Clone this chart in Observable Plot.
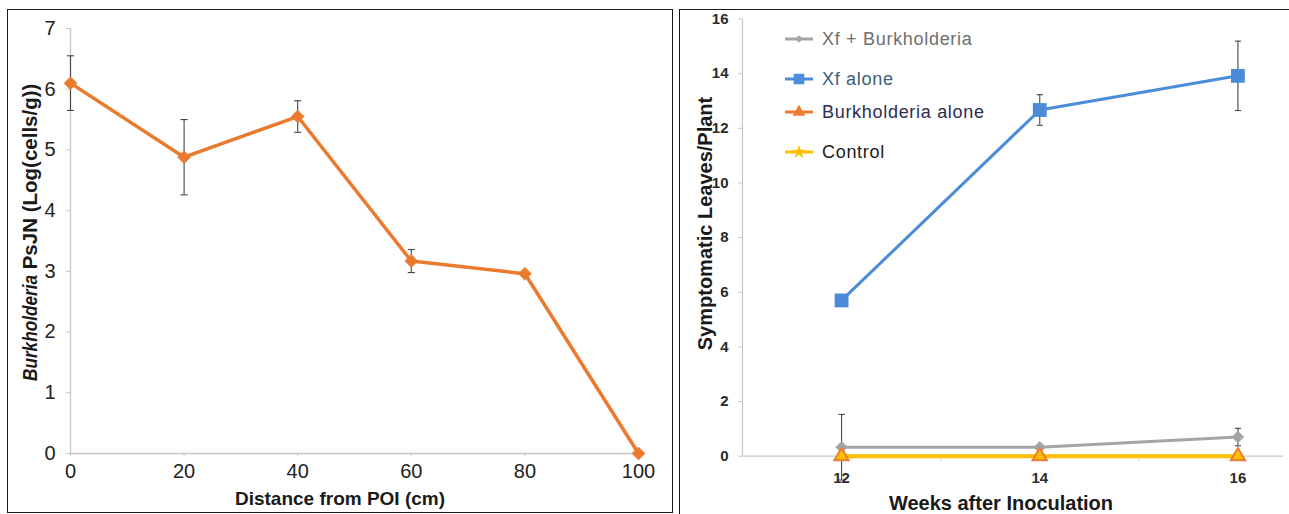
<!DOCTYPE html>
<html>
<head>
<meta charset="utf-8">
<script src="https://cdn.jsdelivr.net/npm/d3@7"></script>
<script src="https://cdn.jsdelivr.net/npm/@observablehq/plot@0.6"></script>
<style>
  html, body { margin: 0; padding: 0; background: #fff; width: 1289px; height: 514px; overflow: hidden;
    font-family: "Liberation Sans", Arial, sans-serif; }
  #left { position: absolute; left: 8px; top: 10px; }
  #right { position: absolute; left: 680px; top: 10px; }
  .frameL { position: absolute; left: 7px; top: 9px; width: 666px; height: 504px; box-sizing: border-box;
    border: 1.5px solid #1a1a1a; pointer-events: none; }
  .frameR { position: absolute; left: 679px; top: 9px; width: 620px; height: 520px; box-sizing: border-box;
    border-top: 1.5px solid #1a1a1a; border-left: 1.5px solid #1a1a1a; pointer-events: none; }
  .leg { position: absolute; left: 784px; height: 20px; display: flex; align-items: center; white-space: nowrap; }
  .leg span { margin-left: 8px; font-size: 18px; letter-spacing: 0.7px; }
</style>
</head>
<body>
<div id="left"></div>
<div id="right"></div>
<div class="frameL"></div>
<div class="frameR"></div>
<div id="legend"></div>
<script>
// ---------- data ----------
const distanceCm = [0, 20, 40, 60, 80, 100];
const psjnLog = [6.1, 4.88, 5.55, 3.17, 2.96, 0];
const psjnErr = [0.45, 0.62, 0.26, 0.19, 0, 0];
const leftYTicks = [0, 1, 2, 3, 4, 5, 6, 7];
const leftXTicks = [0, 20, 40, 60, 80, 100];

const weeks = [12, 14, 16];
const seriesNames = ["Xf + Burkholderia", "Xf alone", "Burkholderia alone", "Control"];
const xfBurk = [0.33, 0.33, 0.7];
const xfBurkErr = [1.2, 0, 0.32];
const xfAlone = [5.7, 12.67, 13.92];
const xfAloneErr = [0, 0.56, 1.27];
const burkAlone = [0, 0, 0];
const control = [0, 0, 0];
const rightYTicks = [0, 2, 4, 6, 8, 10, 12, 14, 16];
const rightXTicks = [12, 14, 16];
const rightCategoryEdges = [13, 15];

// ---------- styles ----------
const FONT = '"Liberation Sans", Arial, sans-serif';
const orange = "#EB7A2E";
const seriesColors = ["#A5A5A5", "#4A8CD8", "#ED7D31", "#FFC000"];
const legendTextColors = ["#6f6f6f", "#3d5d78", "#2c2c55", "#1a1a1a"];
const legendRowCenters = [39, 79, 112, 152];
const axisGray = "#c6c6c6";
const errColor = "#444";
const intFmt = d => String(d);

const hline = { draw(ctx, size) { const w = Math.sqrt(size) / 2; ctx.moveTo(-w, 0); ctx.lineTo(w, 0); } };

// ---------- left chart ----------
const leftData = distanceCm.map((d, i) => ({ d, v: psjnLog[i], e: psjnErr[i] }));
const leftErr = leftData.filter(r => r.e > 0);

const left = Plot.plot({
  width: 664, height: 501,
  marginLeft: 62, marginRight: 34, marginTop: 18, marginBottom: 58,
  style: { fontFamily: FONT, background: "transparent" },
  x: { domain: [0, 100] },
  y: { domain: [0, 7] },
  marks: [
    Plot.ruleY([0], { stroke: axisGray, strokeWidth: 1.3 }),
    Plot.ruleX([0], { stroke: axisGray, strokeWidth: 1.3 }),
    Plot.axisY({ ticks: leftYTicks, tickFormat: intFmt, tickSize: 4, tickPadding: 11, fontSize: 20, fill: "#222", stroke: axisGray, label: null }),
    Plot.axisX({ ticks: leftXTicks, tickFormat: intFmt, tickSize: 3, tickPadding: 7, fontSize: 20, fill: "#222", stroke: axisGray, label: null }),
    Plot.ruleX(leftErr, { x: "d", y1: r => r.v - r.e, y2: r => r.v + r.e, stroke: errColor, strokeWidth: 1.1 }),
    Plot.dot(leftErr, { x: "d", y: r => r.v + r.e, symbol: hline, r: 4, stroke: errColor, strokeWidth: 1.1, fill: "none" }),
    Plot.dot(leftErr, { x: "d", y: r => r.v - r.e, symbol: hline, r: 4, stroke: errColor, strokeWidth: 1.1, fill: "none" }),
    Plot.line(leftData, { x: "d", y: "v", stroke: orange, strokeWidth: 3.5 }),
    Plot.dot(leftData, { x: "d", y: "v", symbol: "square", rotate: 45, r: 5.2, fill: orange, stroke: orange, strokeWidth: 0.5 })
  ]
});
document.getElementById("left").appendChild(left);
{
  const svg = d3.select(left);
  const t = svg.append("text")
    .attr("transform", "translate(29,371) rotate(-90)")
    .attr("text-anchor", "start")
    .attr("font-family", FONT).attr("font-weight", "bold").attr("font-size", 20.5).attr("fill", "#1a1a1a");
  t.append("tspan").attr("font-style", "italic").attr("textLength", 106).attr("lengthAdjust", "spacingAndGlyphs").text("Burkholderia");
  t.append("tspan").text(" PsJN (Log(cells/g))");
  svg.append("text")
    .attr("x", 332).attr("y", 495).attr("text-anchor", "middle")
    .attr("font-family", FONT).attr("font-weight", "bold").attr("font-size", 19).attr("fill", "#1a1a1a")
    .text("Distance from POI (cm)");
}

// ---------- right chart ----------
const rightSeries = [
  { name: seriesNames[0], values: xfBurk, err: xfBurkErr },
  { name: seriesNames[1], values: xfAlone, err: xfAloneErr },
  { name: seriesNames[2], values: burkAlone, err: null },
  { name: seriesNames[3], values: control, err: null }
];
const rightData = rightSeries.flatMap(s => weeks.map((w, i) => ({ series: s.name, week: w, v: s.values[i], e: s.err ? s.err[i] : 0 })));
const rightErr = rightData.filter(r => r.e > 0);
const of = name => rightData.filter(r => r.series === name);

const right = Plot.plot({
  width: 603, height: 504,
  marginLeft: 62, marginRight: 0, marginTop: 8.5, marginBottom: 58.3,
  style: { fontFamily: FONT, background: "transparent" },
  x: { domain: [11, 16.46] },
  y: { domain: [0, 16] },
  marks: [
    Plot.ruleY([0], { stroke: axisGray, strokeWidth: 1.2 }),
    Plot.ruleX([11], { stroke: axisGray, strokeWidth: 1.2 }),
    Plot.axisY({ ticks: rightYTicks, tickFormat: intFmt, tickSize: 4, tickPadding: 10, fontSize: 15, fontWeight: "bold", fill: "#2a2a2a", stroke: axisGray, label: null }),
    Plot.axisX({ ticks: rightCategoryEdges, tickSize: 5, tickFormat: () => "", stroke: axisGray, label: null }),
    Plot.axisX({ ticks: rightXTicks, tickFormat: intFmt, tickSize: 0, tickPadding: 16, fontSize: 15, fontWeight: "bold", fill: "#2a2a2a", label: null }),
    Plot.ruleX(rightErr, { x: "week", y1: r => r.v - r.e, y2: r => r.v + r.e, stroke: errColor, strokeWidth: 1.1 }),
    Plot.dot(rightErr, { x: "week", y: r => r.v + r.e, symbol: hline, r: 3.5, stroke: errColor, strokeWidth: 1.1, fill: "none" }),
    Plot.dot(rightErr, { x: "week", y: r => r.v - r.e, symbol: hline, r: 3.5, stroke: errColor, strokeWidth: 1.1, fill: "none" }),
    Plot.line(of(seriesNames[0]), { x: "week", y: "v", stroke: seriesColors[0], strokeWidth: 3 }),
    Plot.line(of(seriesNames[1]), { x: "week", y: "v", stroke: seriesColors[1], strokeWidth: 3 }),
    Plot.line(of(seriesNames[2]), { x: "week", y: "v", stroke: seriesColors[2], strokeWidth: 3 }),
    Plot.line(of(seriesNames[3]), { x: "week", y: "v", stroke: seriesColors[3], strokeWidth: 4 }),
    Plot.dot(of(seriesNames[0]), { x: "week", y: "v", symbol: "square", rotate: 45, r: 5, fill: seriesColors[0] }),
    Plot.dot(of(seriesNames[1]), { x: "week", y: "v", symbol: "square", r: 7.8, fill: seriesColors[1] }),
    Plot.dot(of(seriesNames[2]), { x: "week", y: "v", symbol: "triangle", r: 6.6, fill: seriesColors[2] }),
    Plot.dot(of(seriesNames[3]), { x: "week", y: "v", symbol: "triangle", r: 4, fill: seriesColors[3] })
  ]
});
document.getElementById("right").appendChild(right);
{
  const svg = d3.select(right);
  svg.append("text")
    .attr("transform", "translate(32,213.5) rotate(-90)")
    .attr("text-anchor", "middle")
    .attr("font-family", FONT).attr("font-weight", "bold").attr("font-size", 20).attr("fill", "#1a1a1a")
    .text("Symptomatic Leaves/Plant");
  svg.append("text")
    .attr("x", 321).attr("y", 500).attr("text-anchor", "middle")
    .attr("font-family", FONT).attr("font-weight", "bold").attr("font-size", 20).attr("fill", "#1a1a1a")
    .text("Weeks after Inoculation");
}

// ---------- legend ----------
const legendSymbols = [
  { type: d3.symbolSquare, size: 30, rotate: 45 },
  { type: d3.symbolSquare, size: 110, rotate: 0 },
  { type: d3.symbolTriangle, size: 70, rotate: 0 },
  { type: d3.symbolStar, size: 60, rotate: 0 }
];
const legend = d3.select("#legend");
seriesNames.forEach((name, i) => {
  const row = legend.append("div").attr("class", "leg").style("top", (legendRowCenters[i] - 10) + "px");
  const sw = row.append("svg").attr("width", 30).attr("height", 20);
  sw.append("line").attr("x1", 1).attr("x2", 29).attr("y1", 10).attr("y2", 10)
    .attr("stroke", seriesColors[i]).attr("stroke-width", 3);
  const s = legendSymbols[i];
  sw.append("path").attr("d", d3.symbol(s.type, s.size)())
    .attr("transform", `translate(15,10) rotate(${s.rotate})`).attr("fill", seriesColors[i]);
  row.append("span").style("color", legendTextColors[i]).text(name);
});
</script>
</body>
</html>
